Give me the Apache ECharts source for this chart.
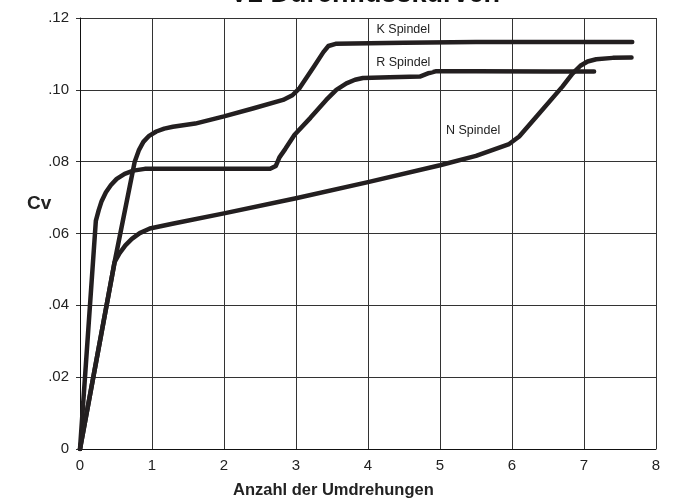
<!DOCTYPE html>
<html>
<head>
<meta charset="utf-8">
<script src="https://cdn.jsdelivr.net/npm/echarts@6/dist/echarts.min.js"></script>
<style>
    html,body{margin:0;padding:0;background:#fff;}
    #main{width:673px;height:501px;}
</style>
</head>
<body>
<div id="main"></div>
<script>
//K Spindel
var kX = [0, 0.48, 0.69, 0.76, 0.82, 0.88, 0.96, 1.06, 1.17, 1.29, 1.6, 2.0, 2.4, 2.82, 2.95, 3.05, 3.25, 3.38, 3.45, 3.55, 4.5, 5.5, 6.5, 7.67];
var kY = [0, 0.052, 0.073, 0.080, 0.0833, 0.0855, 0.0872, 0.0884, 0.0892, 0.0897, 0.0906, 0.0926, 0.0948, 0.0972, 0.0985, 0.1005, 0.1065, 0.1105, 0.1122, 0.1128, 0.1131, 0.1133, 0.1133, 0.1133];
//R Spindel
var rX = [0, 0.22, 0.26, 0.3, 0.36, 0.43, 0.51, 0.62, 0.74, 0.9, 2.0, 2.64, 2.72, 2.77, 2.85, 2.98, 3.2, 3.42, 3.56, 3.7, 3.82, 3.93, 4.3, 4.72, 4.85, 4.95, 5.5, 6.5, 7.14];
var rY = [0, 0.0635, 0.0665, 0.0690, 0.0715, 0.0735, 0.0752, 0.0766, 0.0775, 0.0780, 0.0780, 0.0780, 0.0788, 0.0812, 0.0835, 0.0875, 0.0922, 0.0972, 0.1000, 0.1018, 0.1028, 0.1033, 0.1035, 0.1037, 0.1047, 0.1052, 0.1052, 0.1051, 0.1051];
//N Spindel
var nX = [0, 0.48, 0.55, 0.63, 0.72, 0.83, 0.97, 1.3, 2.0, 3.0, 4.0, 5.0, 5.5, 5.96, 6.1, 6.38, 6.7, 6.84, 6.95, 7.05, 7.17, 7.4, 7.66];
var nY = [0, 0.052, 0.0545, 0.0567, 0.0585, 0.0601, 0.0614, 0.0628, 0.0656, 0.0698, 0.0743, 0.0790, 0.0816, 0.0849, 0.0870, 0.0935, 0.1009, 0.1045, 0.1067, 0.1079, 0.1085, 0.1089, 0.1090];
//标签位置
var seriesNames = ['K Spindel', 'R Spindel', 'N Spindel'];
var labelX = [4.49, 4.49, 5.46];
var labelY = [0.1167, 0.1075, 0.0886];
//刻度
var xTickLabels = ['0', '1', '2', '3', '4', '5', '6', '7', '8'];
var yTickLabels = ['0', '.02', '.04', '.06', '.08', '.10', '.12'];

function pairs(xs, ys) {
    var out = [];
    for (var i = 0; i < xs.length; i++) {
        out.push([xs[i], ys[i]]);
    }
    return out;
}

var lineColor = '#231f20';
var allData = [pairs(kX, kY), pairs(rX, rY), pairs(nX, nY)];

var series = [];
for (var s = 0; s < 3; s++) {
    series.push({
        name: seriesNames[s],
        type: 'line',
        data: allData[s],
        showSymbol: false,
        smooth: false,
        lineStyle: {color: lineColor, width: 4.5, cap: 'round', join: 'round'},
        markPoint: {
            symbol: 'rect',
            symbolSize: 0,
            silent: true,
            label: {
                show: true,
                position: 'inside',
                formatter: seriesNames[s],
                color: '#222',
                fontFamily: 'Liberation Sans, Arial',
                fontSize: 12.5,
                backgroundColor: '#fff',
                padding: [1, 2]
            },
            data: [{coord: [labelX[s], labelY[s]]}]
        },
        z: 3
    });
}

var myChart = echarts.init(document.getElementById('main'), null, {renderer: 'canvas'});
var option = {
    animation: false,
    textStyle: {fontFamily: 'Liberation Sans, Arial'},
    title: {
        text: 'V2 Durchflusskurven',
        left: 360,
        top: -24,
        textAlign: 'center',
        textStyle: {fontSize: 27, fontWeight: 'bold', color: '#111', fontFamily: 'Liberation Sans, Arial'}
    },
    grid: {left: 80, right: 17, top: 18, bottom: 52},
    xAxis: {
        type: 'value',
        min: 0,
        max: 8,
        interval: 1,
        axisLine: {show: true, lineStyle: {color: '#111', width: 1}},
        axisTick: {show: false},
        splitLine: {show: true, lineStyle: {color: '#333', width: 1}},
        axisLabel: {
            margin: 9,
            fontSize: 15,
            color: '#222',
            formatter: function (v) { return xTickLabels[Math.round(v)]; }
        }
    },
    yAxis: {
        type: 'value',
        min: 0,
        max: 0.12,
        interval: 0.02,
        axisLine: {show: true, lineStyle: {color: '#111', width: 1}},
        axisTick: {show: true, length: 4, lineStyle: {color: '#333'}},
        splitLine: {show: true, lineStyle: {color: '#333', width: 1}},
        axisLabel: {
            margin: 11,
            fontSize: 15,
            color: '#222',
            formatter: function (v) { return yTickLabels[Math.round(v / 0.02)]; }
        }
    },
    graphic: [
        {
            type: 'text',
            left: 27,
            top: 194,
            style: {text: 'Cv', fontSize: 19, fontWeight: 'bold', fill: '#222', fontFamily: 'Liberation Sans, Arial'}
        },
        {
            type: 'text',
            left: 233,
            top: 482,
            style: {text: 'Anzahl der Umdrehungen', fontSize: 16.5, fontWeight: 'bold', fill: '#222', fontFamily: 'Liberation Sans, Arial'}
        }
    ],
    series: series
};
myChart.setOption(option);
</script>
</body>
</html>
